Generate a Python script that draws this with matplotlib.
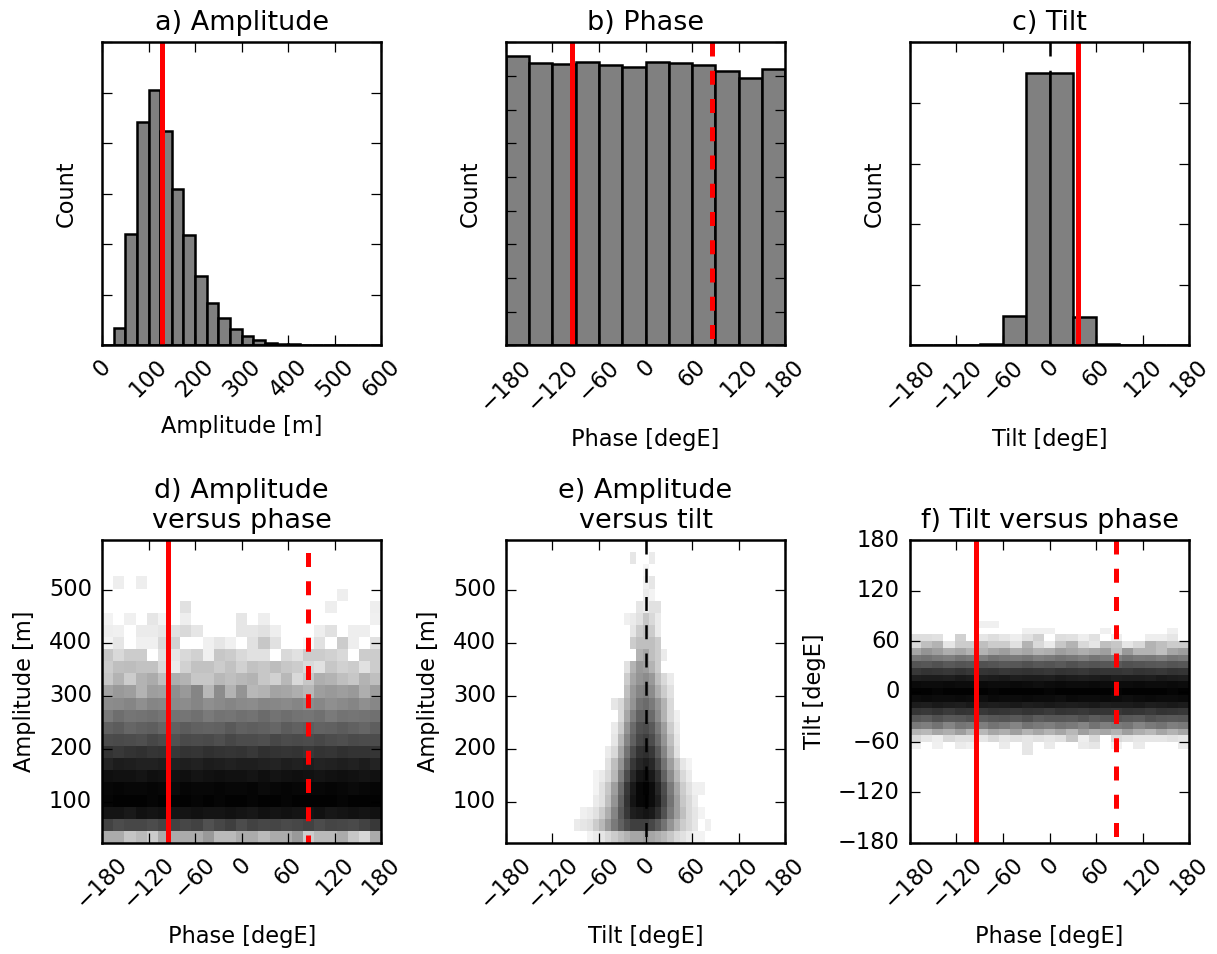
import numpy as np
import matplotlib
matplotlib.use('Agg')
import matplotlib.pyplot as plt

# 1-D histograms (counts)
amp_bin_edges = list(range(0, 625, 25))
amp_counts = [0, 340, 2200, 4430, 5050, 4250, 3100, 2190, 1370, 830, 550, 317,
              185, 100, 53, 33, 22, 15, 10, 8, 6, 4, 2, 1]
deg_bin_edges = list(range(-180, 181, 30))
phase_counts = [2152, 2100, 2092, 2105, 2085, 2068, 2102, 2098, 2082, 2040, 1988, 2052]
tilt_counts = [0, 0, 0, 40, 1200, 11225, 11250, 1168, 50, 0, 0, 0]

# reference lines
amp_ref = 128
phase_ref = -95
phase_ref_opp = 85
tilt_ref = 36

# 2-D histogram bins
phase_edges_2d = np.linspace(-180, 180, 26)
amp_edges_2d = np.linspace(22, 594, 26)
tilt_edges_2d = np.linspace(-180, 180, 46)

# d) shade (0 = white, 100 = black), rows = amplitude bins bottom->top, cols = phase bins
d_rows = [
    "33 33 23 27 20 33 33 33 33 40 27 27 33 33 27 33 33 40 20 27 27 33 22 16 33",
    "74 70 72 72 70 73 74 72 74 68 72 75 70 74 72 73 71 72 74 70 73 72 71 74 78",
    "92 92 90 93 92 93 92 92 93 92 92 93 92 91 93 92 93 92 92 93 91 92 93 92 93",
    "98 99 99 99 98 99 99 99 98 99 98 99 99 98 99 99 98 99 99 99 99 98 99 99 99",
    "97 98 97 97 98 97 96 98 97 97 98 97 97 98 96 97 98 97 97 97 98 97 96 97 98",
    "94 93 93 92 94 93 93 94 92 93 94 93 93 92 94 92 93 94 93 92 93 94 93 92 93",
    "86 89 88 87 87 88 87 88 87 89 88 87 88 88 87 86 88 87 88 86 87 88 87 89 86",
    "80 78 80 81 79 80 78 80 79 81 80 79 80 78 81 80 79 80 78 80 79 81 80 80 79",
    "70 71 70 69 72 70 68 71 70 71 69 72 70 70 69 72 70 71 70 72 70 69 71 70 70",
    "62 64 60 62 63 60 62 64 62 61 62 65 62 63 62 60 64 62 63 61 62 64 62 60 63",
    "52 57 54 55 56 54 55 54 56 52 55 54 56 55 58 55 57 55 54 56 52 55 54 55 56",
    "45 46 48 44 48 47 46 45 48 44 46 48 46 45 48 47 46 48 45 47 44 46 48 44 47",
    "36 40 38 30 38 37 44 40 48 28 45 30 42 28 30 36 35 32 28 38 40 38 40 32 38",
    "22 30 20 30 33 25 32 30 22 22 28 25 28 30 22 18 28 15 22 32 30 25 22 30 25",
    "20 25 26 24 24 15  8 18 24 24 20 24 18 24 22 26 22 20 15 12 22 18 20 12 20",
    "22 15 20 20  0 12 10 15 18  6 22 20 15 12 12  0 15 12 20 20 18 15  0 20 20",
    " 5 10  0  6  6 15 18  0  0  6 10  6  0 12 22 12  0  0  3 12  0 20  7  0 12",
    " 7  6  0  8  8 10 12 15 10  0  0  0 10 10 12  7  0  0  0  7 12  0  7  7  0",
    " 5  0  6  0 10  5  0  7  0  0  0  0 10  0  7  0  0  0  0  0  0  0  0  0  6",
    " 0  0  0  0  0  0  0 12  0  0  0  0  0  0  0  0  0  0  0  0  7  0  0  0  7",
    " 0  0  0  0  0  0  0  0  0  0  0  0  0  0  0  0  0  0  0  0  0  7  0  0  0",
    " 0  7  0  7  0  0  0  0  0  0  0  0  0  0  0  0  0  0  0  0  0  0  0  0  0",
    " 0  0  0  0  0  0  0  0  0  0  0  0  0  0  0  0  0  0  0  0  0  0  0  0  0",
    " 0  0  0  0  0  0  0  0  0  0  0  0  0  0  0  0  0  0  0  0  0  0  0  0  0",
    " 0  0  0  0  0  0  0  0  0  0  0  0  0  0  0  0  0  0  0  0  0  0  0  0  0",
]

# e) shade, rows = amplitude bins bottom->top, cols = tilt bins 10..33 (-100..92 degE)
e_first_tilt_bin = 10
e_rows = [
    " 0  0  0  5  8 10 15 20 25 30 35 35 38 35 32 28 22 15 12  8  5  5  0  0",
    " 0  8 10 12 20 28 40 52 62 70 75 75 75 72 65 55 42 30 20 15 10  0  6  0",
    " 0  0  6  8 12 20 32 48 65 78 88 90 92 90 82 68 52 38 25 15 10  5  0  0",
    " 0  0  0  0  8 12 25 42 62 80 92 97 98 95 88 72 55 38 22 15  8  0  0  0",
    " 0  0  0  0  5 12 22 38 58 78 90 97 99 95 85 70 52 35 20 12  6  6  0  0",
    " 0  0  0  0  5  8 15 28 50 70 84 92 94 90 80 62 45 28 15  8  0  0  0  0",
    " 0  0  0  0  0  0 12 25 42 62 78 85 88 84 72 55 38 22 10  5  0  0  0  0",
    " 0  0  0  0  0  0  8 15 35 55 70 80 82 78 65 48 30 12  0  0  0  0  0  0",
    " 0  0  0  0  0  0  0 10 28 48 62 72 75 70 58 42 25 10  0  0  0  0  0  0",
    " 0  0  0  0  0  0  0  8 20 42 58 68 70 65 52 38 20  8  0  0  0  0  0  0",
    " 0  0  0  0  0  0  0  0 15 35 50 62 62 58 45 30 15  6  0  0  0  0  0  0",
    " 0  0  0  0  0  0  0 10 15 30 42 55 58 52 42 30 15  0  0  0  0  0  0  0",
    " 0  0  0  0  0  0  0  0  0 25 40 48 50 45 32 20 12  0  0  0  0  0  0  0",
    " 0  0  0  0  0  0  0  0  0 20 35 42 45 40 25 15  8  0  0  0  0  0  0  0",
    " 0  0  0  0  0  0  0  0  0 12 30 40 38 30 20  0  0  0  0  0  0  0  0  0",
    " 0  0  0  0  0  0  0  0  0  0  0 30 35 25 20  8  0  0  0  0  0  0  0  0",
    " 0  0  0  0  0  0  0  0  0  0 20 25 25 25 20  0  0  0  0  0  0  0  0  0",
    " 0  0  0  0  0  0  0  0  0  0 10 20 25 20  8  0  0  0  0  0  0  0  0  0",
    " 0  0  0  0  0  0  0  0  0  6  8 12 22 15  8  0  0  0  0  0  0  0  0  0",
    " 0  0  0  0  0  0  0  0  0  0  0 10  8 12 12  0  0  0  0  0  0  0  0  0",
    " 0  0  0  0  0  0  0  0  0  0  0  0  8  5  0  0  0  0  0  0  0  0  0  0",
    " 0  0  0  0  0  0  0  0  0  0  0  0  6 10  0  0  0  0  0  0  0  0  0  0",
    " 0  0  0  0  0  0  0  0  0  0  0  0  4  0  0  0  0  0  0  0  0  0  0  0",
    " 0  0  0  0  0  0  0  0  0  0 10  0  0  8  0  0  0  0  0  0  0  0  0  0",
    " 0  0  0  0  0  0  0  0  0  0  0  0  0  0  0  0  0  0  0  0  0  0  0  0",
]

# f) shade, rows = tilt bins 13..32 (-76..84 degE) bottom->top, cols = phase bins
f_first_tilt_bin = 13
f_rows = [
    " 0  0  0  0  0  0  0  0  0  0 10  0  0  0  0  0  0  0  0  0  0  0  0  0  0",
    " 6  0  6  0  8  6  0  0  8  0 10  0  8  0  0  8 10  0  6  0  8  0  0  0  8",
    "15 10  7 15 12 12 10 15 10 12 10 12 10 12 22  7 15  0 15 12 10 10 10 12 10",
    "30 28 35 32 38 30 28 35 32 38 30 35 30 35 28 38 32 35 30 38 32 28 35 30 35",
    "52 50 55 48 54 52 50 55 52 48 55 52 50 54 52 48 55 50 52 54 48 52 55 50 52",
    "66 64 68 65 66 68 64 66 67 65 68 64 66 66 65 68 64 66 67 65 64 68 66 65 66",
    "79 78 80 77 80 79 78 80 79 78 80 79 77 80 79 78 80 79 78 80 79 77 80 79 78",
    "89 88 90 89 88 90 89 88 89 90 88 89 90 89 88 89 90 88 89 89 90 88 89 90 89",
    "95 96 95 95 96 95 94 96 95 95 96 95 95 94 96 95 95 96 95 94 95 96 95 95 96",
    "99 99 98 99 99 99 99 98 99 99 99 99 98 99 99 99 99 99 98 99 99 99 99 98 99",
    "96 95 95 96 95 95 96 95 95 96 95 94 95 96 95 95 96 95 95 95 96 95 95 96 95",
    "88 89 89 88 90 89 88 89 90 88 89 89 88 90 89 88 89 90 88 89 89 88 90 89 88",
    "78 80 79 78 80 78 79 80 78 79 80 79 78 80 79 78 80 79 79 78 80 79 78 80 79",
    "67 66 68 65 67 66 68 67 65 66 68 66 67 65 68 66 67 66 65 68 67 66 65 67 66",
    "53 55 52 50 54 52 50 55 53 52 54 50 52 55 53 50 54 52 50 55 52 53 50 54 52",
    "35 42 38 32 35 30 30 35 38 32 35 30 32 38 35 32 35 38 25 40 30 30 25 35 38",
    "15 25 30 10 20 20 25 20 20 12 30 15  8 22 30 15 10 25 22 10 15 30 25 20 20",
    "13 13 12  0 18  0 10 13 10  7 12 18  0 13 12  7 12  0  7  0  0  7  7 10  0",
    " 0  0  0  0  0  0  0  0  0  0  6  6  6  0  0  0  0  6  0  0  0  0  0  6  0",
    " 0  0  0  0  0  0  6  6  0  0  0  0  0  0  0  0  0  0  0  0  0  0  0  0  0",
]


def parse(rows):
    return np.array([[int(v) for v in r.split()] for r in rows], dtype=float)


d_shade = parse(d_rows)
e_shade = np.zeros((len(amp_edges_2d) - 1, len(tilt_edges_2d) - 1))
e_part = parse(e_rows)
e_shade[:, e_first_tilt_bin:e_first_tilt_bin + e_part.shape[1]] = e_part
f_shade = np.zeros((len(tilt_edges_2d) - 1, len(phase_edges_2d) - 1))
f_part = parse(f_rows)
f_shade[f_first_tilt_bin:f_first_tilt_bin + f_part.shape[0], :] = f_part

plt.style.use('classic')
plt.rcParams['font.size'] = 9
plt.rcParams['font.family'] = ['DejaVu Sans']

DASH = (0, (5.6, 5.7))

fig, axes = plt.subplots(2, 3, figsize=(1217 / 180, 954 / 180))
fig.subplots_adjust(left=0.0838, right=0.9772, top=0.9555, bottom=0.1164,
                    wspace=0.446, hspace=0.6436)
deg_ticks = np.arange(-180, 181, 60)


def vline(ax, x, color='r', lw=2, ls='-', **kw):
    # drawn top -> bottom so the dash pattern starts at the top
    ax.axvline(x, ymin=1, ymax=0, color=color, lw=lw, ls=ls, **kw)


def rotate_xticks(ax):
    for lab in ax.get_xticklabels():
        lab.set_rotation(45)


# a) Amplitude
ax = axes[0, 0]
ax.bar(amp_bin_edges[:-1], amp_counts, width=np.diff(amp_bin_edges), align='edge',
       color='0.5', edgecolor='k', linewidth=1)
vline(ax, amp_ref)
ax.set_xlim(0, 600)
ax.set_ylim(0, 6000)
ax.set_xticks(np.arange(0, 601, 100))
ax.set_yticks(np.arange(0, 6001, 1000))
ax.set_yticklabels([])
rotate_xticks(ax)
ax.set_title('a) Amplitude')
ax.set_xlabel('Amplitude [m]')
ax.set_ylabel('Count', labelpad=5.5)

# b) Phase
ax = axes[0, 1]
ax.bar(deg_bin_edges[:-1], phase_counts, width=np.diff(deg_bin_edges), align='edge',
       color='0.5', edgecolor='k', linewidth=1)
vline(ax, phase_ref)
vline(ax, phase_ref_opp, ls=DASH)
ax.set_xlim(-180, 180)
ax.set_ylim(0, 2250)
ax.set_xticks(deg_ticks)
ax.set_yticks(np.arange(0, 2251, 250))
ax.set_yticklabels([])
rotate_xticks(ax)
ax.set_title('b) Phase')
ax.set_xlabel('Phase [degE]')
ax.set_ylabel('Count', labelpad=5.5)

# c) Tilt
ax = axes[0, 2]
vline(ax, 0, color='k', lw=1, ls=DASH, zorder=0.5)
ax.bar(deg_bin_edges[:-1], tilt_counts, width=np.diff(deg_bin_edges), align='edge',
       color='0.5', edgecolor='k', linewidth=1)
vline(ax, tilt_ref)
ax.set_xlim(-180, 180)
ax.set_ylim(0, 12500)
ax.set_xticks(deg_ticks)
ax.set_yticks(np.arange(0, 12501, 2500))
ax.set_yticklabels([])
rotate_xticks(ax)
ax.set_title('c) Tilt')
ax.set_xlabel('Tilt [degE]')
ax.set_ylabel('Count', labelpad=5.5)

# d) Amplitude versus phase
ax = axes[1, 0]
ax.pcolormesh(phase_edges_2d, amp_edges_2d, d_shade, cmap='gray_r', vmin=0, vmax=100)
vline(ax, phase_ref)
vline(ax, phase_ref_opp, ls=(6.3, (5.6, 5.7)))
ax.set_xlim(-180, 180)
ax.set_ylim(amp_edges_2d[0], amp_edges_2d[-1])
ax.set_xticks(deg_ticks)
ax.set_yticks(np.arange(100, 501, 100))
rotate_xticks(ax)
ax.set_title('d) Amplitude\nversus phase')
ax.set_xlabel('Phase [degE]')
ax.set_ylabel('Amplitude [m]')

# e) Amplitude versus tilt
ax = axes[1, 1]
ax.pcolormesh(tilt_edges_2d, amp_edges_2d, e_shade, cmap='gray_r', vmin=0, vmax=100)
vline(ax, 0, color='k', lw=1, ls=DASH)
ax.set_xlim(-180, 180)
ax.set_ylim(amp_edges_2d[0], amp_edges_2d[-1])
ax.set_xticks(deg_ticks)
ax.set_yticks(np.arange(100, 501, 100))
rotate_xticks(ax)
ax.set_title('e) Amplitude\nversus tilt')
ax.set_xlabel('Tilt [degE]')
ax.set_ylabel('Amplitude [m]')

# f) Tilt versus phase
ax = axes[1, 2]
ax.pcolormesh(phase_edges_2d, tilt_edges_2d, f_shade, cmap='gray_r', vmin=0, vmax=100)
vline(ax, phase_ref)
vline(ax, phase_ref_opp, ls=DASH)
ax.set_xlim(-180, 180)
ax.set_ylim(-180, 180)
ax.set_xticks(deg_ticks)
ax.set_yticks(deg_ticks)
rotate_xticks(ax)
ax.set_title('f) Tilt versus phase')
ax.set_xlabel('Phase [degE]')
ax.set_ylabel('Tilt [degE]')

fig.savefig('out.png', dpi=180, facecolor='white')
